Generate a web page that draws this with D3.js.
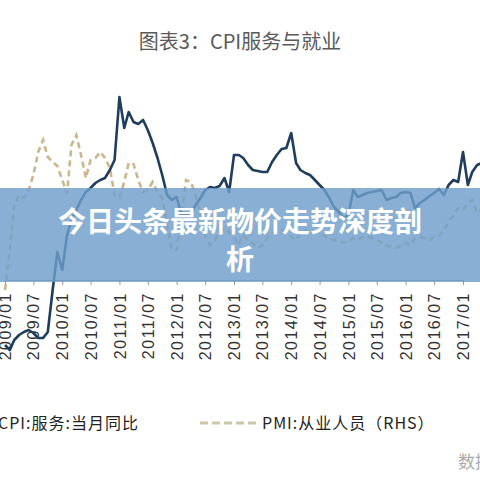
<!DOCTYPE html>
<html><head><meta charset="utf-8">
<script src="https://cdn.jsdelivr.net/npm/d3@7"></script>
<style>body{margin:0;background:#fff}svg{display:block}</style>
</head><body>
<svg id="chart" width="480" height="480"></svg>
<script>
// monthly series, starting 2009-01
var startMonth = "2009-01";
var cpiService = [-0.3,-0.4,-0.2,-0.1,-0.04,0,-0.06,-0.16,-0.16,-0.04,0.8,1.56,
  1.2,1.9,2.2,2.4,2.6,2.76,2.84,2.94,3.0,3.04,3.2,3.4,
  4.66,4.04,4.36,4.16,4.12,4.2,4.0,3.74,3.44,3.1,2.7,2.6,
  2.66,2.3,2.3,2.32,2.5,2.64,2.8,2.86,2.84,2.88,3.04,2.76,
  3.5,3.5,3.44,3.3,3.2,3.18,3.16,3.16,3.36,3.5,3.62,3.64,
  3.94,3.34,3.2,3.14,3.1,3.0,2.9,2.8,2.64,2.46,2.36,2.24,
  2.3,2.8,2.66,2.7,2.74,2.76,2.78,2.8,2.6,2.64,2.66,2.74,
  2.76,2.74,2.44,2.54,2.6,2.68,2.74,2.82,2.7,2.9,3.0,2.96,
  3.56,2.9,3.16,3.3,3.34];
var pmiEmployment = [45.5,47.5,49.75,50.25,50.1,50.5,51.25,52.4,53,52.15,51.9,51.7,
  51,50.35,52.75,53.25,52.25,51.1,52,52.1,52.4,52.1,51.6,50.25,
  50.1,50.9,51.85,51.8,51,50.4,50.5,50.9,50.4,50.1,48.75,47.5,
  47.5,49.25,51,50.9,50.25,49.25,48.25,47.75,48,48.4,48.6,48.4,
  48.15,47.75,48.25,48,47.85,47.6,47.75,48.1,48.35,48.4,48.5,48.4,
  48.15,48,48.35,48.5,48.4,48.4,48.35,48.2,48.1,48,47.9,47.9,
  47.9,48.1,48,48.15,48.2,48.1,48,47.85,47.75,47.65,47.6,47.7,
  47.85,47.75,48.1,48.15,48.1,48,48.15,48.2,48.5,48.9,49.25,49.6,
  49.5,49.85,50,49.35,49.5];
var tickLabels = ["2009/01","2009/07","2010/01","2010/07","2011/01","2011/07","2012/01","2012/07",
  "2013/01","2013/07","2014/01","2014/07","2015/01","2015/07","2016/01","2016/07","2017/01"];
var titleText = "图表3：CPI服务与就业";
var bannerLines = ["今日头条最新物价走势深度剖","析"];
var legendCpi = "CPI:服务:当月同比", legendPmi = "PMI:从业人员（RHS）";

var svg = d3.select("#chart");
var parse = d3.timeParse("%Y-%m");
var t0 = parse(startMonth);
var dates = cpiService.map(function(d,i){ return d3.timeMonth.offset(t0, i); });

var x = d3.scaleTime().domain([parse("2009-01"), parse("2017-01")]).range([5, 463]);
var yL = d3.scaleLinear().domain([0, 5]).range([330, 80]);
var yR = d3.scaleLinear().domain([45, 53]).range([300, 140]);

svg.append("text").attr("x", 240).attr("y", 49).attr("text-anchor", "middle")
  .attr("font-family", "Noto Sans CJK SC").attr("font-size", 20).attr("fill", "#5a5a5a")
  .text(titleText);

// x axis
var ticks = tickLabels.map(function(s){ return d3.timeParse("%Y/%m")(s); });
var axis = svg.append("g").attr("transform", "translate(0,280)")
  .call(d3.axisBottom(x).tickValues(ticks).tickSize(5).tickFormat(d3.timeFormat("%Y/%m")));
axis.select(".domain").attr("stroke", "#999");
axis.selectAll(".tick line").attr("stroke", "#999");
axis.selectAll(".tick text").attr("transform", "rotate(-90)").attr("text-anchor", "end")
  .attr("x", -12).attr("y", 0).attr("dy", "0.35em")
  .attr("font-family", "Liberation Sans").attr("font-size", 16).attr("letter-spacing", 1.5)
  .attr("fill", "#333");

var linePmi = d3.line().x(function(d,i){ return x(dates[i]); }).y(function(d){ return yR(d); });
var lineCpi = d3.line().x(function(d,i){ return x(dates[i]); }).y(function(d){ return yL(d); });

svg.append("path").datum(pmiEmployment).attr("d", linePmi).attr("fill", "none")
  .attr("stroke", "#cdb68e").attr("stroke-width", 2.6).attr("stroke-dasharray", "6,4");
svg.append("path").datum(cpiService).attr("d", lineCpi).attr("fill", "none")
  .attr("stroke", "#1f3d5c").attr("stroke-width", 2.6).attr("stroke-linejoin", "round");

// banner overlay
svg.append("rect").attr("x", 0).attr("y", 188).attr("width", 480).attr("height", 94)
  .attr("fill", "#6f9fcb").attr("opacity", 0.82);
svg.selectAll(".bn").data(bannerLines).enter().append("text")
  .attr("x", 240).attr("y", function(d,i){ return 232 + i*38; }).attr("text-anchor", "middle")
  .attr("font-family", "Noto Sans CJK SC").attr("font-weight", "bold").attr("font-size", 28)
  .attr("fill", "#fff").text(function(d){ return d; });

// legend
var lg = svg.append("g").attr("font-family", "Noto Sans CJK SC").attr("font-size", 16).attr("fill", "#222");
lg.append("text").attr("x", -2).attr("y", 429).attr("letter-spacing", 1).text(legendCpi);
lg.append("line").attr("x1", 200).attr("x2", 257).attr("y1", 423).attr("y2", 423)
  .attr("stroke", "#cdc6a8").attr("stroke-width", 3).attr("stroke-dasharray", "8,4");
lg.append("text").attr("x", 262).attr("y", 429).attr("letter-spacing", 1).text(legendPmi);

svg.append("text").attr("x", 458).attr("y", 468).attr("font-family", "Noto Sans CJK SC")
  .attr("font-size", 17).attr("fill", "#aaa").text("数据");
</script>
</body></html>
